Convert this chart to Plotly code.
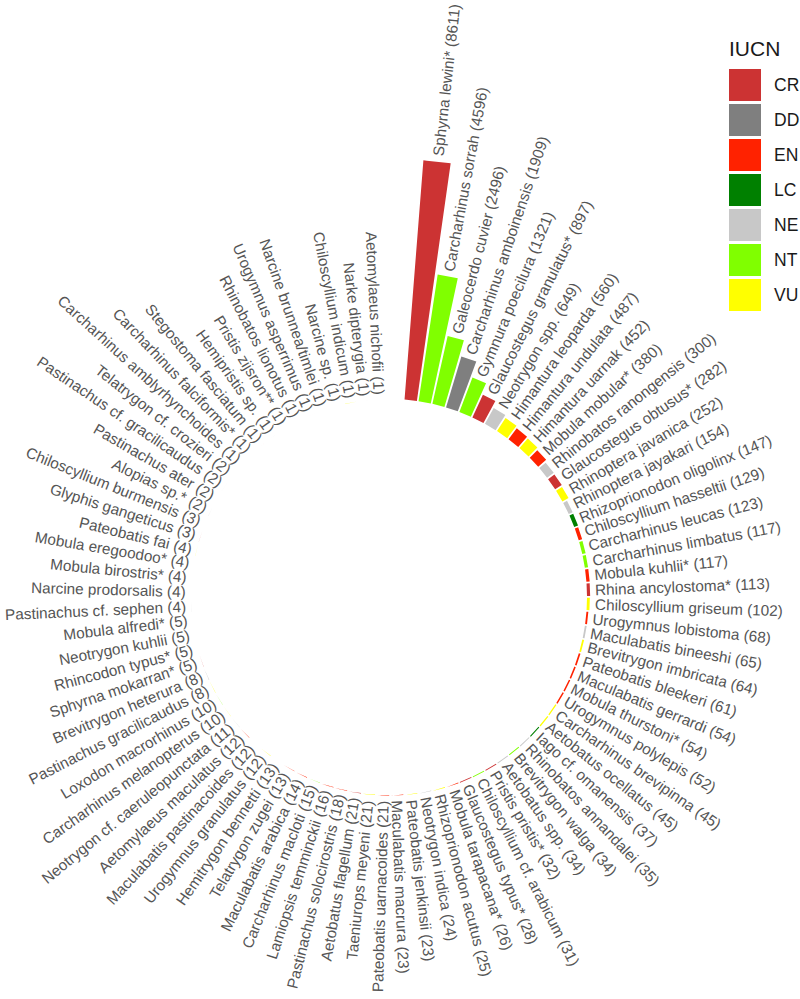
import math
import plotly.graph_objects as go

species = [
    "Sphyrna lewini*", "Carcharhinus sorrah", "Galeocerdo cuvier", "Carcharhinus amboinensis",
    "Gymnura poecilura", "Glaucostegus granulatus*", "Neotrygon spp.", "Himantura leoparda",
    "Himantura undulata", "Himantura uarnak", "Mobula mobular*", "Rhinobatos ranongensis",
    "Glaucostegus obtusus*", "Rhinoptera javanica", "Rhinoptera jayakari", "Rhizoprionodon oligolinx",
    "Chiloscyllium hasseltii", "Carcharhinus leucas", "Carcharhinus limbatus", "Mobula kuhlii*",
    "Rhina ancylostoma*", "Chiloscyllium griseum", "Urogymnus lobistoma", "Maculabatis bineeshi",
    "Brevitrygon imbricata", "Pateobatis bleekeri", "Maculabatis gerrardi", "Mobula thurstoni*",
    "Urogymnus polylepis", "Carcharhinus brevipinna", "Aetobatus ocellatus", "Iago cf. omanensis",
    "Rhinobatos annandalei", "Brevitrygon walga", "Aetobatus spp.", "Pristis pristis*",
    "Chiloscyllium cf. arabicum", "Glaucostegus typus*", "Mobula tarapacana*", "Rhizoprionodon acutus",
    "Neotrygon indica", "Pateobatis jenkinsii", "Maculabatis macrura", "Pateobatis uarnacoides",
    "Taeniurops meyeni", "Aetobatus flagellum", "Pastinachus solocirostris", "Lamiopsis temminckii",
    "Carcharhinus macloti", "Maculabatis arabica", "Telatrygon zugei", "Hemitrygon bennetti",
    "Urogymnus granulatus", "Maculabatis pastinacoides", "Aetomylaeus maculatus",
    "Neotrygon cf. caeruleopunctata", "Carcharhinus melanopterus", "Loxodon macrorhinus",
    "Pastinachus gracilicaudus", "Brevitrygon heterura", "Sphyrna mokarran*", "Rhincodon typus*",
    "Neotrygon kuhlii", "Mobula alfredi*", "Pastinachus cf. sephen", "Narcine prodorsalis",
    "Mobula birostris*", "Mobula eregoodoo*", "Pateobatis fai", "Glyphis gangeticus",
    "Chiloscyllium burmensis", "Alopias sp.*", "Pastinachus ater", "Pastinachus cf. gracilicaudus",
    "Telatrygon cf. crozieri", "Carcharhinus amblyrhynchoides", "Carcharhinus falciformis*",
    "Stegostoma fasciatum", "Hemipristis sp.", "Pristis zijsron**", "Rhinobatos lionotus",
    "Urogymnus asperrimus", "Narcine brunnea/timlei", "Narcine sp.", "Chiloscyllium indicum",
    "Narke dipterygia", "Aetomylaeus nichofii",
]

counts = [
    8611, 4596, 2496, 1909, 1321, 897, 649, 560, 487, 452, 380, 300, 282, 252, 154, 147,
    129, 123, 117, 117, 113, 102, 68, 65, 64, 61, 54, 54, 52, 45, 45, 37, 35, 34, 34, 32,
    31, 28, 26, 25, 24, 23, 23, 21, 21, 21, 18, 16, 15, 14, 13, 13, 12, 12, 12, 11, 10, 10,
    8, 8, 5, 5, 5, 5, 4, 4, 4, 4, 4, 3, 3, 2, 2, 2, 2, 1, 1, 1, 1, 1, 1, 1, 1, 1, 1, 1, 1,
]

iucn = [
    "CR", "NT", "NT", "DD", "NT", "CR", "NE", "VU", "EN", "VU", "EN", "NE", "CR", "VU", "NE", "LC",
    "EN", "NT", "NT", "EN", "CR", "VU", "EN", "NE", "VU", "EN", "EN", "EN", "EN", "VU", "VU", "LC",
    "NE", "NT", "NE", "CR", "NT", "CR", "EN", "VU", "NE", "VU", "EN", "EN", "VU", "CR", "EN", "EN",
    "NT", "EN", "EN", "VU", "VU", "EN", "EN", "NE", "VU", "NT", "VU", "DD", "CR", "EN", "DD", "VU",
    "NE", "DD", "EN", "EN", "VU", "CR", "DD", "NE", "VU", "NE", "NE", "NT", "VU", "EN", "NE", "CR",
    "VU", "EN", "NE", "NE", "VU", "DD", "VU",
]

categories = ["CR", "DD", "EN", "LC", "NE", "NT", "VU"]
cat_colors = ["#CC3333", "#7F7F7F", "#FF2200", "#008000", "#C8C8C8", "#80FF00", "#FFFF00"]

# ---- geometry (styling / layout) ----
W, H = 800, 999
CX, CY = 389, 597          # centre of the circle, pixels from top-left
HOLE_PX = 198              # inner radius in pixels
K = 240.0 / 8611.0         # pixels per individual
START, STEP = 6.3, 4.08    # degrees
BAR_FRAC = 0.88
OFF_PX = 5
FONT_SIZE = 15.3

R0 = HOLE_PX / K           # hole in data units

ARIAL = {' ': 278, '(': 333, ')': 333, '*': 389, '.': 278, '/': 278}
for d in '0123456789':
    ARIAL[d] = 556
ARIAL.update(dict(zip("ABCDEFGHIJKLMNOPQRSTUVWXYZ",
    [667, 667, 722, 722, 667, 611, 778, 722, 278, 500, 667, 556, 833, 722, 778, 667, 778, 722,
     667, 611, 722, 667, 944, 667, 667, 611])))
ARIAL.update(dict(zip("abcdefghijklmnopqrstuvwxyz",
    [556, 556, 500, 556, 556, 278, 556, 556, 222, 222, 500, 222, 833, 556, 556, 556, 556, 333,
     500, 278, 556, 500, 722, 500, 500, 500])))


def text_width(s, size):
    return sum(ARIAL.get(c, 556) for c in s) / 1000.0 * size


fig = go.Figure()

n = len(species)
angles = [START + i * STEP for i in range(n)]
half = BAR_FRAC * STEP / 2.0

for cat, col in zip(categories, cat_colors):
    xs, ys = [], []
    for i in range(n):
        if iucn[i] != cat:
            continue
        a0, a1 = angles[i] - half, angles[i] + half
        r_out = R0 + counts[i]
        m = 8
        pts = []
        for j in range(m + 1):
            a = math.radians(a0 + (a1 - a0) * j / m)
            pts.append((R0 * math.sin(a), R0 * math.cos(a)))
        for j in range(m + 1):
            a = math.radians(a1 - (a1 - a0) * j / m)
            pts.append((r_out * math.sin(a), r_out * math.cos(a)))
        pts.append(pts[0])
        xs += [p[0] for p in pts] + [None]
        ys += [p[1] for p in pts] + [None]
    fig.add_trace(go.Scatter(x=xs, y=ys, mode="lines", fill="toself", fillcolor=col,
                             line=dict(width=0, color=col), name=cat, showlegend=False,
                             hoverinfo="skip"))

annotations = []
for i in range(n):
    label = f"{species[i]} ({counts[i]})"
    L = text_width(label, FONT_SIZE)
    th = angles[i]
    r_c = R0 + counts[i] + (OFF_PX + L / 2.0) / K
    a = math.radians(th)
    tang = th - 90 if th < 180 else th - 270
    annotations.append(dict(
        x=r_c * math.sin(a), y=r_c * math.cos(a), xref="x", yref="y",
        text=label, showarrow=False, textangle=tang,
        xanchor="center", yanchor="middle",
        font=dict(family="Liberation Sans, Arial, sans-serif", size=FONT_SIZE, color="#555555"),
    ))

# legend (manual, ggplot-like big keys)
shapes = []
LX0, LX1 = 729, 761
LY0, LSTEP, LSIZE = 69, 35, 32
annotations.append(dict(x=727 / W, y=1 - 48 / H, xref="paper", yref="paper", text="IUCN",
                        showarrow=False, xanchor="left", yanchor="middle",
                        font=dict(family="Liberation Sans, Arial, sans-serif", size=21, color="#1a1a1a")))
for j, (cat, col) in enumerate(zip(categories, cat_colors)):
    y0 = LY0 + j * LSTEP
    shapes.append(dict(type="rect", xref="paper", yref="paper",
                       x0=LX0 / W, x1=LX1 / W, y0=1 - y0 / H, y1=1 - (y0 + LSIZE) / H,
                       fillcolor=col, line=dict(width=0)))
    annotations.append(dict(x=772 / W, y=1 - (y0 + LSIZE / 2) / H, xref="paper", yref="paper",
                            text=cat, showarrow=False, xanchor="left", yanchor="middle",
                            font=dict(family="Liberation Sans, Arial, sans-serif", size=17.5, color="#1a1a1a")))

fig.update_layout(
    width=W, height=H, margin=dict(l=0, r=0, t=0, b=0),
    paper_bgcolor="white", plot_bgcolor="white",
    xaxis=dict(range=[-CX / K, (W - CX) / K], visible=False, fixedrange=True),
    yaxis=dict(range=[-(H - CY) / K, CY / K], visible=False, fixedrange=True),
    annotations=annotations, shapes=shapes, showlegend=False,
)

fig.write_html("out.html", config={"displayModeBar": False},
               post_script="document.body.style.margin='0';document.body.style.padding='0';"
                           "document.body.style.overflow='hidden';")
